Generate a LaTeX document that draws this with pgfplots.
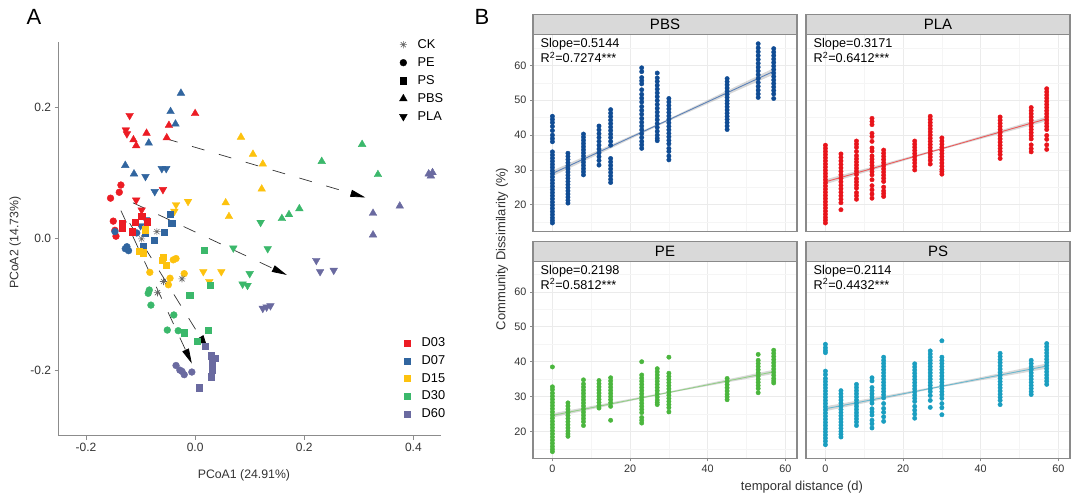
\documentclass[border=0pt]{standalone}
\usepackage{pgfplots}
\pgfplotsset{compat=1.18}
\usepackage{fontspec}
\setmainfont{Liberation Sans}
\usetikzlibrary{arrows.meta}
\definecolor{cA}{HTML}{EC1C24}
\definecolor{cB}{HTML}{31659F}
\definecolor{cC}{HTML}{FDC20E}
\definecolor{cD}{HTML}{3BB86B}
\definecolor{cE}{HTML}{6A6AA0}
\definecolor{ckgray}{HTML}{666666}
\definecolor{axgray}{HTML}{8C8C8C}
\definecolor{txtgray}{HTML}{333333}
\definecolor{pbs}{HTML}{104C94}
\definecolor{pla}{HTML}{E8141B}
\definecolor{pe}{HTML}{4BB63E}
\definecolor{ps}{HTML}{1A9EC0}
\definecolor{pbsl}{HTML}{5C82B8}
\definecolor{plal}{HTML}{EE5A5A}
\definecolor{pel}{HTML}{93CF87}
\definecolor{psl}{HTML}{6CB8CF}
\definecolor{gridmaj}{HTML}{EBEBEB}
\definecolor{gridmin}{HTML}{F5F5F5}
\definecolor{border}{HTML}{8A8A8A}
\definecolor{strip}{HTML}{D9D9D9}
\pgfdeclareplotmark{ast8}{%
  \pgfpathmoveto{\pgfqpoint{-\pgfplotmarksize}{0pt}}\pgfpathlineto{\pgfqpoint{\pgfplotmarksize}{0pt}}%
  \pgfpathmoveto{\pgfqpoint{0pt}{-\pgfplotmarksize}}\pgfpathlineto{\pgfqpoint{0pt}{\pgfplotmarksize}}%
  \pgfpathmoveto{\pgfqpoint{-0.707\pgfplotmarksize}{-0.707\pgfplotmarksize}}\pgfpathlineto{\pgfqpoint{0.707\pgfplotmarksize}{0.707\pgfplotmarksize}}%
  \pgfpathmoveto{\pgfqpoint{-0.707\pgfplotmarksize}{0.707\pgfplotmarksize}}\pgfpathlineto{\pgfqpoint{0.707\pgfplotmarksize}{-0.707\pgfplotmarksize}}%
  \pgfusepathqstroke}
\tikzset{stat/.style={anchor=north west, align=left, inner sep=0pt, font=\fontsize{12.7}{15}\selectfont, xshift=7.5pt, yshift=-3.5pt}}
\pgfplotsset{
  up/.style={only marks, forget plot, mark=triangle*, mark size=4.4pt, color=#1},
  dn/.style={only marks, forget plot, mark=triangle*, mark size=4.4pt, color=#1, mark options={rotate=180}},
  sq/.style={only marks, forget plot, mark=square*, mark size=3.1pt, color=#1},
  ci/.style={only marks, forget plot, mark=*, mark size=3.4pt, color=#1},
  arr/.style={forget plot, draw=black!80, line width=0.7pt, dash pattern=on 13pt off 15pt, -{Triangle[length=15pt,width=7pt,black]}},
  dots/.style={only marks, forget plot, mark=*, mark size=2.2pt, color=#1},
  lgimg/.style={legend image code/.code={\path (0pt,0pt) (20pt,0pt); \draw[##1] plot coordinates {(8pt,0pt)};}},
  facet/.style={scale only axis, width=264pt, height=197pt, xmin=-5, xmax=63, ymin=12.3, ymax=68.8,
    axis line style={draw=border, line width=1.1pt},
    xtick={0,20,40,60}, ytick={20,30,40,50,60},
    minor xtick={10,30,50}, minor ytick={15,25,35,45,55,65},
    xmajorgrids, ymajorgrids, xminorgrids, yminorgrids,
    major grid style={draw=gridmaj, line width=0.7pt},
    minor grid style={draw=gridmin, line width=0.5pt},
    tick align=outside, xtick pos=bottom, ytick pos=left,
    major tick length=3pt, minor tick length=0pt,
    tick style={draw=border, line width=0.8pt},
    minor tick style={draw=none},
    ticklabel style={font=\fontsize{10.8}{12}\selectfont, text=txtgray},
    title style={at={(0.5,1)}, anchor=south, yshift=-6pt, fill=strip, draw=border, line width=1.1pt,
      minimum width=264pt, minimum height=20pt, inner sep=0pt, outer sep=0pt, font=\fontsize{15}{17}\selectfont, text=black}},
  noxt/.style={xticklabels={}, xtick style={draw=none}},
  noyt/.style={yticklabels={}, ytick style={draw=none}},
}
\begin{document}
\begin{tikzpicture}
\path[use as bounding box] (0pt,0pt) rectangle (1080pt,497pt);
% ---------------- Panel A ----------------
\begin{axis}[at={(58.7pt,61.3pt)}, anchor=south west, scale only axis, width=382pt, height=393.7pt,
  xmin=-0.25, xmax=0.45, ymin=-0.3, ymax=0.3,
  axis x line=bottom, axis y line=left, axis line style={-, draw=axgray, line width=1pt},
  xtick={-0.2,0,0.2,0.4}, xticklabels={-0.2,0.0,0.2,0.4},
  ytick={-0.2,0,0.2}, yticklabels={-0.2,0.0,0.2},
  tick align=outside, major tick length=4pt, tick style={draw=axgray, line width=0.9pt},
  ticklabel style={font=\fontsize{12}{14}\selectfont, text=txtgray},
  xlabel={PCoA1 (24.91\%)}, ylabel={PCoA2 (14.73\%)},
  label style={font=\fontsize{12.3}{14}\selectfont, text=txtgray},
  xlabel style={at={(axis description cs:0.485,-0.1)}, anchor=center},
  ylabel style={at={(axis description cs:-0.114,0.49)}, anchor=center},
  lgimg,
  legend style={draw=none, fill=none, at={(0.880,1.012)}, anchor=north west, font=\fontsize{12.8}{14}\selectfont, row sep=3.6pt, inner sep=0pt},
  legend cell align=left,
]
\addlegendimage{only marks, mark=ast8, mark size=3.6pt, color=ckgray, line width=0.6pt}\addlegendentry{CK}
\addlegendimage{only marks, mark=*, mark size=3.4pt, black}\addlegendentry{PE}
\addlegendimage{only marks, mark=square*, mark size=3.1pt, black}\addlegendentry{PS}
\addlegendimage{only marks, mark=triangle*, mark size=4.4pt, black}\addlegendentry{PBS}
\addlegendimage{only marks, mark=triangle*, mark size=4.4pt, black, mark options={rotate=180}}\addlegendentry{PLA}
% PBS
\addplot[up=cA] coordinates {(0.0,0.191)(-0.048,0.173)(-0.089,0.161)(-0.113,0.151)(-0.108,0.142)(-0.052,0.154)};
\addplot[up=cB] coordinates {(-0.026,0.222)(-0.045,0.194)(-0.036,0.175)(-0.085,0.146)(-0.128,0.112)(-0.112,0.099)};
\addplot[up=cC] coordinates {(0.084,0.155)(0.106,0.129)(0.124,0.114)(0.122,0.076)(0.056,0.055)(0.062,0.034)};
\addplot[up=cD] coordinates {(0.306,0.144)(0.232,0.118)(0.335,0.098)(0.191,0.046)(0.172,0.037)(0.159,0.031)};
\addplot[up=cE] coordinates {(0.428,0.099)(0.435,0.101)(0.432,0.096)(0.375,0.050)(0.326,0.039)(0.326,0.006)};
% PLA
\addplot[dn=cA] coordinates {(-0.120,0.188)(-0.127,0.166)(-0.125,0.160)(-0.059,0.075)(-0.108,0.059)(-0.098,0.044)};
\addplot[dn=cB] coordinates {(-0.061,0.107)(-0.053,0.107)(-0.091,0.095)(-0.074,0.072)(-0.090,0.029)(-0.100,0.020)};
\addplot[dn=cC] coordinates {(-0.035,0.052)(-0.013,0.057)(-0.038,0.042)(0.015,-0.050)(0.048,-0.050)(0.026,-0.065)};
\addplot[dn=cD] coordinates {(0.120,0.025)(0.070,-0.014)(0.133,-0.015)(0.100,-0.053)(0.087,-0.069)(0.096,-0.071)};
\addplot[dn=cE] coordinates {(0.222,-0.033)(0.229,-0.050)(0.254,-0.048)(0.124,-0.106)(0.138,-0.102)(0.131,-0.104)};
% PE
\addplot[ci=cA] coordinates {(-0.136,0.082)(-0.139,0.071)(-0.155,0.062)(-0.150,0.027)(-0.147,0.013)(-0.145,0.004)};
\addplot[ci=cB] coordinates {(-0.147,0.011)(-0.128,-0.015)(-0.122,-0.018)(-0.107,0.009)(-0.125,-0.012)};
\addplot[ci=cC] coordinates {(-0.040,-0.032)(-0.020,-0.053)(-0.046,-0.060)(-0.083,-0.051)(-0.049,-0.070)(-0.035,-0.030)};
\addplot[ci=cD] coordinates {(-0.084,-0.078)(-0.086,-0.083)(-0.081,-0.101)(-0.039,-0.116)(-0.051,-0.139)(-0.031,-0.140)};
\addplot[ci=cE] coordinates {(-0.035,-0.193)(-0.024,-0.202)(-0.020,-0.207)(-0.006,-0.203)(-0.028,-0.200)};
% PS
\addplot[sq=cA] coordinates {(-0.134,0.024)(-0.134,0.016)(-0.110,0.025)(-0.116,0.011)(-0.098,0.034)(-0.088,0.026)};
\addplot[sq=cB] coordinates {(-0.046,0.037)(-0.043,0.024)(-0.057,0.010)(-0.075,-0.002)(-0.095,-0.012)(-0.092,0.009)};
\addplot[sq=cC] coordinates {(-0.061,-0.032)(-0.053,-0.040)(-0.102,-0.019)(-0.095,-0.021)(-0.091,0.014)(-0.058,-0.028)};
\addplot[sq=cD] coordinates {(0.016,-0.017)(0.028,-0.071)(-0.010,-0.086)(0.024,-0.139)(-0.020,-0.143)(0.004,-0.156)};
\addplot[sq=cE] coordinates {(0.018,-0.164)(0.029,-0.178)(0.037,-0.182)(0.032,-0.190)(0.031,-0.200)(0.029,-0.210)(0.008,-0.227)};
% CK
\addplot[only marks, forget plot, mark=ast8, mark size=3.6pt, color=ckgray, line width=0.6pt] coordinates {(-0.070,0.011)(-0.098,0.000)(-0.058,-0.065)(-0.024,-0.061)(-0.069,-0.082)};
% arrows
\addplot[arr] coordinates {(-0.055,0.153)(0.312,0.063)};
\addplot[arr] coordinates {(-0.114,0.055)(0.168,-0.055)};
\addplot[arr] coordinates {(-0.136,0.043)(-0.006,-0.190)};
\addplot[arr] coordinates {(-0.120,0.024)(0.024,-0.169)};
\end{axis}
\begin{axis}[at={(58.7pt,61.3pt)}, anchor=south west, scale only axis, width=382pt, height=393.7pt,
  xmin=-0.25, xmax=0.45, ymin=-0.3, ymax=0.3, hide axis, lgimg,
  legend style={draw=none, fill=none, at={(0.891,0.254)}, anchor=north west, font=\fontsize{12.8}{14}\selectfont, row sep=3.3pt, inner sep=0pt},
  legend cell align=left]
\addlegendimage{only marks, mark=square*, mark size=3.1pt, cA}\addlegendentry{D03}
\addlegendimage{only marks, mark=square*, mark size=3.1pt, cB}\addlegendentry{D07}
\addlegendimage{only marks, mark=square*, mark size=3.1pt, cC}\addlegendentry{D15}
\addlegendimage{only marks, mark=square*, mark size=3.1pt, cD}\addlegendentry{D30}
\addlegendimage{only marks, mark=square*, mark size=3.1pt, cE}\addlegendentry{D60}
\end{axis}
\node[font=\fontsize{22}{24}\selectfont] at (34pt,480pt) {A};
\node[font=\fontsize{22}{24}\selectfont] at (482pt,480.5pt) {B};
% ---------------- Panel B ----------------
% PBS
\begin{axis}[facet, noxt, at={(533pt,265.3pt)}, anchor=south west, title={PBS}, yticklabels={20,30,40,50,60}]
\addplot[dots=pbs] coordinates {
(0,45.4)(0,44.5)(0,43.6)(0,42.5)(0,41.3)(0,40.0)(0,39.0)(0,38.1)(0,35.2)(0,34.3)(0,33.4)(0,32.5)(0,31.6)(0,30.7)(0,29.8)(0,28.9)(0,28.0)(0,27.1)(0,26.2)(0,25.3)(0,24.4)(0,23.5)(0,22.6)(0,21.7)(0,20.8)(0,19.9)(0,19.0)(0,18.1)(0,17.2)(0,16.3)(0,15.5)(0,14.8)
(4,34.8)(4,33.9)(4,33.0)(4,32.1)(4,31.2)(4,30.3)(4,29.4)(4,28.5)(4,27.6)(4,26.7)(4,25.8)(4,24.9)(4,24.0)(4,23.1)(4,22.2)(4,21.3)(4,20.5)
(8,40.3)(8,39.4)(8,38.5)(8,37.6)(8,36.7)(8,35.8)(8,34.9)(8,34.0)(8,33.1)(8,32.2)(8,31.3)(8,30.4)(8,29.5)(8,28.6)
(12,42.6)(12,41.5)(12,40.4)(12,39.3)(12,38.2)(12,37.1)(12,36.0)(12,34.9)(12,33.8)(12,32.7)(12,31.4)
(15,47.3)(15,46.3)(15,45.3)(15,44.3)(15,43.3)(15,42.3)(15,41.3)(15,40.3)(15,39.3)(15,38.2)(15,37.1)(15,33.3)(15,32.3)(15,31.3)(15,30.3)(15,29.3)(15,28.3)(15,27.3)(15,26.4)
(23,59.3)(23,58.2)(23,56.5)(23,55.6)(23,54.7)(23,53.0)(23,51.7)(23,50.6)(23,49.5)(23,48.2)(23,47.1)(23,46.0)(23,44.8)(23,43.7)(23,42.6)(23,41.5)(23,40.4)(23,39.3)(23,38.2)(23,37.2)(23,36.2)
(27,57.8)(27,56.4)(27,55.4)(27,54.3)(27,53.2)(27,52.1)(27,51.0)(27,49.9)(27,48.8)(27,47.7)(27,46.6)(27,45.5)(27,44.4)(27,43.3)(27,42.2)(27,41.1)(27,40.0)(27,39.1)(27,38.4)
(30,50.5)(30,49.5)(30,48.5)(30,47.5)(30,46.5)(30,45.5)(30,44.5)(30,43.5)(30,42.5)(30,41.5)(30,40.5)(30,39.5)(30,38.5)(30,37.5)(30,36.2)(30,35.3)(30,34.0)(30,32.9)
(45,56.2)(45,55.3)(45,54.4)(45,53.5)(45,52.6)(45,51.7)(45,50.8)(45,49.9)(45,49.0)(45,48.1)(45,47.2)(45,46.3)(45,45.4)(45,44.5)(45,43.6)(45,42.6)(45,41.6)
(53,66.2)(53,65.0)(53,63.9)(53,62.8)(53,61.7)(53,60.6)(53,59.5)(53,58.4)(53,57.3)(53,56.2)(53,55.1)(53,54.0)(53,52.9)(53,51.8)(53,50.8)
(57,64.8)(57,63.8)(57,62.8)(57,61.8)(57,60.8)(57,59.8)(57,58.8)(57,57.8)(57,56.8)(57,55.8)(57,54.8)(57,53.8)(57,52.8)(57,51.8)(57,50.5)};
\addplot[forget plot, draw=none, fill=gray, fill opacity=0.3] coordinates {(0,28.2)(28.5,43.3)(57,57.4)(57,59.2)(28.5,43.9)(0,29.8)};
\addplot[forget plot, draw=pbsl, line width=0.9pt] coordinates {(0,29.0)(57,58.3)};
\node[stat] at (rel axis cs:0,1) {Slope=0.5144\\R\textsuperscript{2}=0.7274***};
\end{axis}
% PLA
\begin{axis}[facet, noxt, noyt, at={(806pt,265.3pt)}, anchor=south west, title={PLA}]
\addplot[dots=pla] coordinates {
(0,37.1)(0,36.2)(0,35.3)(0,34.4)(0,33.5)(0,32.6)(0,31.7)(0,30.8)(0,29.9)(0,29.0)(0,28.1)(0,27.2)(0,26.3)(0,25.4)(0,24.5)(0,23.6)(0,22.7)(0,21.8)(0,20.9)(0,20.0)(0,19.1)(0,18.2)(0,17.3)(0,16.4)(0,15.6)(0,14.8)
(4,34.6)(4,33.6)(4,32.6)(4,31.6)(4,30.6)(4,29.6)(4,28.6)(4,27.6)(4,26.6)(4,25.6)(4,24.6)(4,23.6)(4,22.6)(4,21.6)(4,20.6)(4,18.6)
(8,38.3)(8,37.4)(8,36.5)(8,35.3)(8,34.1)(8,33.2)(8,32.3)(8,31.4)(8,30.5)(8,29.6)(8,28.7)(8,27.5)(8,26.6)(8,25.7)(8,24.8)(8,23.5)(8,22.6)(8,21.6)
(12,44.8)(12,43.9)(12,43.0)(12,40.5)(12,39.6)(12,38.2)(12,36.3)(12,35.4)(12,34.0)(12,33.1)(12,32.2)(12,31.3)(12,30.4)(12,29.5)(12,28.6)(12,27.2)(12,25.5)(12,24.3)(12,23.1)(12,21.9)
(15,35.7)(15,34.8)(15,33.9)(15,33.0)(15,32.1)(15,31.2)(15,30.3)(15,29.4)(15,28.5)(15,27.6)(15,26.7)(15,25.1)(15,24.0)(15,23.2)(15,22.4)
(23,38.3)(23,37.4)(23,36.5)(23,35.6)(23,34.7)(23,33.8)(23,32.9)(23,32.0)(23,31.0)(23,30.0)
(27,45.4)(27,44.5)(27,43.6)(27,42.7)(27,41.8)(27,40.9)(27,40.0)(27,39.1)(27,38.2)(27,37.3)(27,36.4)(27,35.5)(27,34.6)(27,33.7)(27,32.8)(27,31.7)
(30,39.2)(30,38.3)(30,37.4)(30,36.5)(30,35.6)(30,34.7)(30,33.8)(30,32.9)(30,32.0)(30,31.1)(30,30.2)(30,29.5)(30,28.8)
(45,45.2)(45,44.3)(45,43.4)(45,42.5)(45,41.6)(45,40.7)(45,39.8)(45,38.9)(45,38.0)(45,37.1)(45,36.2)(45,35.3)(45,34.4)(45,33.3)
(53,47.9)(53,47.0)(53,46.1)(53,45.2)(53,44.3)(53,43.4)(53,42.5)(53,41.6)(53,40.7)(53,39.8)(53,38.9)(53,37.2)(53,36.1)(53,35.2)
(57,53.3)(57,52.4)(57,51.5)(57,50.6)(57,49.7)(57,48.8)(57,47.9)(57,47.0)(57,46.1)(57,45.2)(57,44.3)(57,43.4)(57,42.5)(57,41.6)(57,39.9)(57,38.8)(57,37.2)(57,35.9)};
\addplot[forget plot, draw=none, fill=gray, fill opacity=0.3] coordinates {(0,25.9)(28.5,35.4)(57,44.0)(57,45.3)(28.5,35.9)(0,27.3)};
\addplot[forget plot, draw=plal, line width=0.9pt] coordinates {(0,26.6)(57,44.67)};
\node[stat] at (rel axis cs:0,1) {Slope=0.3171\\R\textsuperscript{2}=0.6412***};
\end{axis}
% PE
\begin{axis}[facet, at={(533pt,38.7pt)}, anchor=south west, title={PE}, xticklabels={0,20,40,60}, yticklabels={20,30,40,50,60}]
\addplot[dots=pe] coordinates {
(0,38.5)(0,32.8)(0,32.0)(0,31.0)(0,30.1)(0,29.2)(0,28.3)(0,27.4)(0,26.5)(0,25.6)(0,24.7)(0,23.8)(0,22.9)(0,22.0)(0,21.1)(0,20.2)(0,19.3)(0,18.4)(0,17.5)(0,16.6)(0,15.7)(0,14.9)(0,14.2)
(4,28.2)(4,27.3)(4,26.4)(4,25.5)(4,24.6)(4,23.7)(4,22.8)(4,21.9)(4,21.0)(4,20.1)(4,19.3)(4,18.6)
(8,34.8)(8,33.6)(8,32.7)(8,31.8)(8,30.9)(8,30.0)(8,29.1)(8,28.2)(8,27.3)(8,26.4)(8,25.5)(8,24.6)(8,23.7)(8,22.8)(8,21.7)
(12,34.6)(12,33.7)(12,32.8)(12,31.9)(12,31.0)(12,30.1)(12,29.2)(12,28.3)(12,27.4)(12,26.7)
(15,35.4)(15,34.5)(15,33.6)(15,32.7)(15,31.8)(15,30.9)(15,30.0)(15,29.1)(15,28.2)(15,27.2)(15,23.2)
(23,40.0)(23,36.2)(23,35.3)(23,34.4)(23,33.5)(23,32.6)(23,31.7)(23,30.8)(23,29.9)(23,29.0)(23,28.1)(23,27.2)(23,26.3)(23,25.4)(23,24.0)(23,23.2)(23,22.4)
(27,38.0)(27,37.1)(27,36.2)(27,35.3)(27,34.4)(27,33.5)(27,32.6)(27,31.7)(27,30.8)(27,29.9)(27,29.0)(27,28.3)(27,27.7)
(30,41.3)(30,36.7)(30,35.8)(30,34.9)(30,34.0)(30,33.1)(30,32.2)(30,31.3)(30,30.4)(30,29.5)(30,28.6)(30,27.7)(30,26.8)(30,25.6)
(45,35.2)(45,34.3)(45,33.4)(45,32.5)(45,31.6)(45,30.7)(45,29.9)(45,29.1)
(53,42.1)(53,40.4)(53,39.5)(53,38.6)(53,37.7)(53,36.8)(53,35.9)(53,35.0)(53,34.1)(53,33.2)(53,32.3)(53,31.1)
(57,43.3)(57,42.4)(57,41.5)(57,40.6)(57,39.7)(57,38.8)(57,37.9)(57,37.0)(57,36.1)(57,35.2)(57,34.5)(57,33.9)};
\addplot[forget plot, draw=none, fill=gray, fill opacity=0.3] coordinates {(0,24.0)(28.5,30.7)(57,36.5)(57,37.7)(28.5,31.1)(0,25.2)};
\addplot[forget plot, draw=pel, line width=0.9pt] coordinates {(0,24.6)(57,37.1)};
\node[stat] at (rel axis cs:0,1) {Slope=0.2198\\R\textsuperscript{2}=0.5812***};
\end{axis}
% PS
\begin{axis}[facet, noyt, at={(806pt,38.7pt)}, anchor=south west, title={PS}, xticklabels={0,20,40,60}]
\addplot[dots=ps] coordinates {
(0,45.0)(0,44.0)(0,43.2)(0,42.6)(0,37.3)(0,36.3)(0,35.2)(0,34.3)(0,33.4)(0,32.5)(0,31.6)(0,30.7)(0,29.8)(0,28.9)(0,28.0)(0,27.1)(0,26.2)(0,25.3)(0,24.4)(0,23.5)(0,22.6)(0,21.7)(0,20.8)(0,19.9)(0,19.0)(0,18.1)(0,17.2)(0,16.2)
(4,31.7)(4,30.8)(4,29.9)(4,29.0)(4,28.1)(4,27.2)(4,26.3)(4,25.4)(4,24.5)(4,23.6)(4,22.7)(4,21.8)(4,20.9)(4,20.0)(4,19.2)(4,18.4)
(8,33.5)(8,32.6)(8,31.7)(8,30.8)(8,29.9)(8,29.0)(8,28.1)(8,27.2)(8,26.3)(8,25.4)(8,24.5)(8,23.6)(8,22.7)(8,21.7)
(12,35.4)(12,34.5)(12,32.6)(12,31.7)(12,30.8)(12,29.9)(12,29.0)(12,28.1)(12,26.5)(12,25.6)(12,24.7)(12,23.2)(12,22.2)(12,21.0)
(15,41.3)(15,40.4)(15,39.5)(15,38.6)(15,37.7)(15,36.8)(15,35.9)(15,35.0)(15,34.1)(15,33.2)(15,32.3)(15,31.4)(15,30.5)(15,29.6)(15,28.0)(15,26.6)(15,25.5)(15,24.2)(15,22.9)
(23,39.4)(23,38.5)(23,37.6)(23,36.7)(23,35.8)(23,34.9)(23,34.0)(23,33.1)(23,32.2)(23,31.3)(23,30.4)(23,29.5)(23,28.6)(23,27.2)(23,26.1)(23,25.0)(23,23.8)
(27,43.1)(27,42.2)(27,41.3)(27,40.4)(27,39.5)(27,38.6)(27,37.7)(27,36.8)(27,35.9)(27,35.0)(27,34.1)(27,33.2)(27,32.3)(27,31.4)(27,30.3)(27,28.9)(27,26.9)
(30,46.0)(30,41.3)(30,40.4)(30,39.5)(30,38.6)(30,37.7)(30,36.8)(30,35.9)(30,35.0)(30,34.1)(30,33.2)(30,32.3)(30,31.4)(30,30.5)(30,29.5)(30,28.0)(30,26.8)(30,24.8)
(45,42.4)(45,41.5)(45,40.6)(45,39.7)(45,38.8)(45,37.9)(45,37.0)(45,36.1)(45,35.2)(45,34.3)(45,33.4)(45,32.5)(45,31.6)(45,30.7)(45,29.8)(45,28.9)(45,27.7)
(53,40.4)(53,39.5)(53,38.6)(53,37.7)(53,36.8)(53,35.9)(53,35.0)(53,34.1)(53,33.2)(53,32.3)(53,31.4)(53,30.6)
(57,45.2)(57,44.3)(57,43.4)(57,42.5)(57,41.6)(57,40.7)(57,39.8)(57,38.9)(57,38.0)(57,37.1)(57,36.2)(57,35.3)(57,34.4)(57,33.5)};
\addplot[forget plot, draw=none, fill=gray, fill opacity=0.3] coordinates {(0,25.8)(28.5,32.4)(57,38.0)(57,39.5)(28.5,32.9)(0,27.2)};
\addplot[forget plot, draw=psl, line width=0.9pt] coordinates {(0,26.5)(57,38.75)};
\node[stat] at (rel axis cs:0,1) {Slope=0.2114\\R\textsuperscript{2}=0.4432***};
\end{axis}
\node[rotate=90, font=\fontsize{13}{15}\selectfont, text=txtgray] at (502pt,248pt) {Community Dissimilarity (\%)};
\node[font=\fontsize{13}{15}\selectfont, text=txtgray] at (802pt,10pt) {temporal distance (d)};
\end{tikzpicture}
\end{document}
